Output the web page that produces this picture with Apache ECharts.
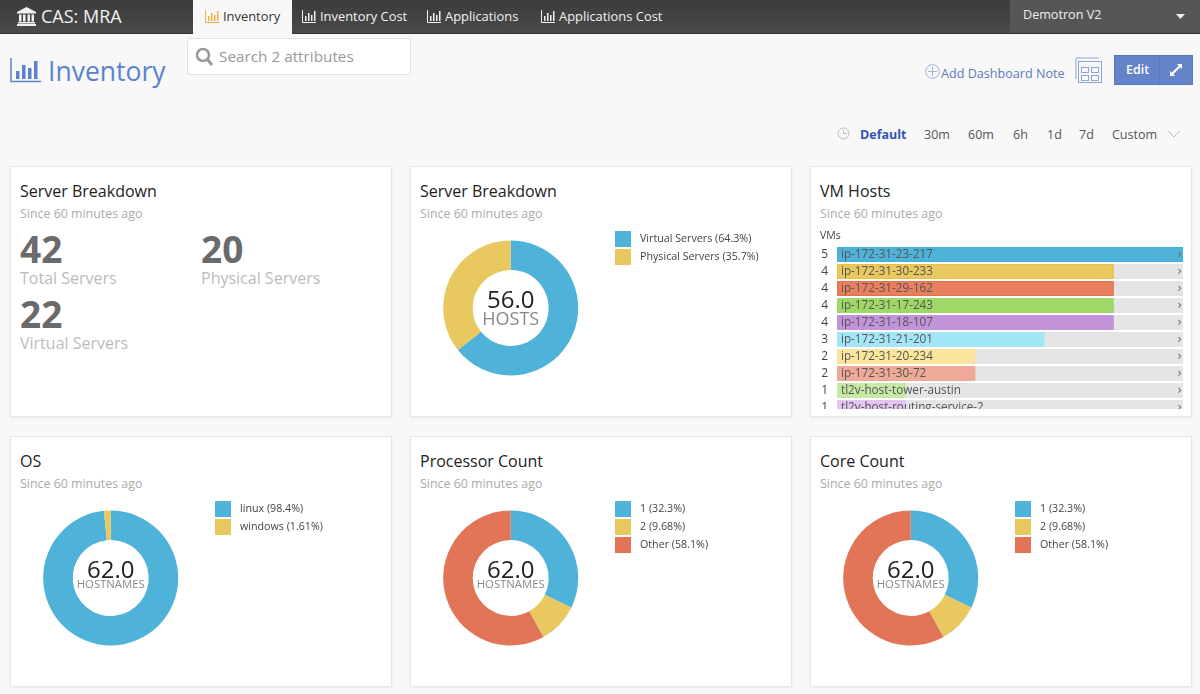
<!DOCTYPE html>
<html>
<head>
<meta charset="utf-8">
<title>CAS: MRA - Inventory</title>
<script src="https://cdn.jsdelivr.net/npm/echarts@6/dist/echarts.min.js"></script>
<style>
  html, body { margin: 0; padding: 0; }
  body { width: 1200px; height: 694px; overflow: hidden; position: relative; background: #f8f8f8;
         font-family: "Open Sans", sans-serif; color: #333; }
  .abs { position: absolute; white-space: nowrap; line-height: 1; }
  .nav { left: 0; top: 0; width: 1200px; height: 33px; background: linear-gradient(#3c3c3c, #4a4a4a); border-bottom: 1px solid #333; }
  .org { left: 1010px; top: 0; width: 190px; height: 33px; background: #565656; }
  .tab-on { left: 193px; top: 0; width: 99px; height: 34px; background: #f8f8f8; }
  .tab { top: 9.500px; font-size: 12.900px; color: #f2f2f2; }
  .card { width: 382px; height: 251px; background: #fff; border: 1px solid #e8e8e8; box-sizing: border-box;
          box-shadow: 0 1px 2px rgba(0,0,0,.06); }
  .card-title { font-size: 16px; color: #222; }
  .card-sub { font-size: 12.400px; color: #aaa; }
  .kpi { font-size: 37px; font-weight: 700; color: #6a6a6a; }
  .kpi-label { font-size: 16px; color: #bbb; }
  .range { top: 129px; font-size: 12.500px; color: #555; }
  .chart { position: absolute; width: 380px; height: 249px; }
  .clip { position: absolute; width: 380px; overflow: hidden; }
</style>
</head>
<body>
<div class="abs nav"></div>
<div class="abs org"></div>
<div class="abs tab-on"></div>

<svg class="abs" style="left:17px;top:7px" width="19" height="19" viewBox="0 0 19 19" fill="#f2f2f2">
  <path d="M9.5 0 L19 5 V6.5 H0 V5 Z"/><rect x="2" y="7.5" width="2.5" height="7"/><rect x="6" y="7.5" width="2.5" height="7"/>
  <rect x="10.5" y="7.5" width="2.5" height="7"/><rect x="14.500" y="7.5" width="2.5" height="7"/>
  <rect x="1" y="15" width="17" height="1.500"/><rect x="0" y="17" width="19" height="2"/>
</svg>
<div class="abs" style="left:41px;top:7px;font-size:18px;color:#f2f2f2">CAS: MRA</div>
<div id="tabs"></div>
<div class="abs" style="left:1023px;top:9px;font-size:12.600px;color:#eee">Demotron V2</div>
<svg class="abs" style="left:1176px;top:14px" width="9" height="5"><path d="M0 0H9L4.500 5Z" fill="#eee"/></svg>

<svg class="abs" style="left:10px;top:58px" width="31" height="25" viewBox="0 0 31 25">
  <path d="M1 0V23.500H31" fill="none" stroke="#5b82cc" stroke-width="1.500"/>
  <rect x="6" y="13" width="3.500" height="8" fill="#5b82cc"/><rect x="12" y="7" width="3.500" height="14" fill="#5b82cc"/>
  <rect x="18" y="10" width="3.500" height="11" fill="#5b82cc"/><rect x="24" y="3" width="3.500" height="18" fill="#5b82cc"/>
</svg>
<div class="abs" style="left:48px;top:58px;font-size:26.500px;color:#5b82cc">Inventory</div>
<div class="abs" style="left:187px;top:38px;width:224px;height:37px;background:#fff;border:1px solid #e2e2e2;border-radius:3px;box-sizing:border-box"></div>
<svg class="abs" style="left:195px;top:47px" width="19" height="20" viewBox="0 0 19 20">
  <circle cx="8" cy="8" r="6" fill="none" stroke="#999" stroke-width="2.500"/><path d="M12.500 12.500L17 18" stroke="#999" stroke-width="3"/>
</svg>
<div class="abs" style="left:219px;top:49px;font-size:15.300px;color:#999">Search 2 attributes</div>

<svg class="abs" style="left:925px;top:64px" width="15" height="15" viewBox="0 0 15 15">
  <circle cx="7.500" cy="7.500" r="6.800" fill="none" stroke="#9fb3dd"/><path d="M7.500 3V12M3 7.500H12" stroke="#9fb3dd"/>
</svg>
<div class="abs" style="left:941px;top:68px;font-size:12.600px;color:#5b7bbd">Add Dashboard Note</div>
<svg class="abs" style="left:1075px;top:57px" width="27" height="26" viewBox="0 0 27 26" fill="none" stroke="#8ea6d8">
  <path d="M1 22V1H24"/><rect x="3.500" y="4.500" width="23" height="21" fill="#f8f8f8"/>
  <rect x="6.500" y="10.500" width="7" height="5"/><rect x="16.500" y="10.500" width="7" height="5"/>
  <rect x="6.500" y="18.500" width="7" height="5"/><rect x="16.500" y="18.500" width="7" height="5"/>
</svg>
<div class="abs" style="left:1114px;top:55px;width:79px;height:30px;background:#6583c9;border:1px solid #5a78bd;box-sizing:border-box"></div>
<div class="abs" style="left:1159px;top:56px;width:1px;height:28px;background:#5a78bd"></div>
<div class="abs" style="left:1126px;top:64px;font-size:12.500px;font-weight:600;color:#fff">Edit</div>
<svg class="abs" style="left:1170px;top:64px" width="12" height="12" viewBox="0 0 12 12" fill="#fff">
  <path d="M7 0H12V5L10.300 3.300L3.300 10.300L5 12H0V7L1.700 8.700L8.700 1.700Z"/>
</svg>

<svg class="abs" style="left:837px;top:127px" width="13" height="13" viewBox="0 0 13 13" fill="none" stroke="#bbb">
  <circle cx="6.500" cy="6.500" r="5.500"/><path d="M6.500 3V6.500H10"/>
</svg>
<div id="ranges"></div>
<svg class="abs" style="left:1167px;top:130px" width="14" height="8"><path d="M1 1L7 7L13 1" fill="none" stroke="#bbb"/></svg>

<div id="cards"></div>

<script>
// Top bar and time range labels.
const TABS = ["Inventory", "Inventory Cost", "Applications", "Applications Cost"];
const TAB_X = [223, 320, 445, 559];
const RANGES = ["Default", "30m", "60m", "6h", "1d", "7d", "Custom"];
const RANGE_X = [860, 924, 968, 1013, 1047, 1079, 1112];

// Server Breakdown tiles.
const KPI_VALUES = [42, 20, 22];
const KPI_LABELS = ["Total Servers", "Physical Servers", "Virtual Servers"];

// Donuts: counts per slice, the legend percentages come from these.
const SERVER_NAMES = ["Virtual Servers", "Physical Servers"];
const SERVER_VALUES = [36, 20];
const OS_NAMES = ["linux", "windows"];
const OS_VALUES = [61, 1];
const PROCESSOR_NAMES = ["1", "2", "Other"];
const PROCESSOR_VALUES = [20, 6, 36];
const CORE_NAMES = ["1", "2", "Other"];
const CORE_VALUES = [20, 6, 36];

// VM Hosts list.
const VM_HOSTS = [
  "ip-172-31-23-217", "ip-172-31-30-233", "ip-172-31-29-162", "ip-172-31-17-243", "ip-172-31-18-107",
  "ip-172-31-21-201", "ip-172-31-20-234", "ip-172-31-30-72", "tl2v-host-tower-austin", "tl2v-host-routing-service-2",
];
const VM_COUNTS = [5, 4, 4, 4, 4, 3, 2, 2, 1, 1];
const VM_MAX = 5;
const VM_COLORS = ["#4fb3d9", "#e8c85f", "#e8805f", "#9fd867", "#c393d9", "#a3e6f7", "#fbe59c", "#eeaa97", "#c6e9a6", "#e3c5f1"];
const VM_BORDERS = ["#3fb0dc", "#eac13f", "#e2704e", "#9fd867", "#c393d9", "#a3e6f7", "#fbe59c", "#eeaa97", "#c6e9a6", "#e3c5f1"];

const SLICE_COLORS = ["#4fb3d9", "#e8c85f", "#e27557"];

const BAR_ICON = (color) => `<svg width="14" height="13" viewBox="0 0 14 13" style="position:absolute;left:-18px;top:0">
  <path d="M.5 0V12.500H14" fill="none" stroke="${color}"/>
  <path d="M3 6h1.500v5H3zM6 3h1.500v8H6zM9 5h1.500v6H9zM12 1h1.500v10H12z" fill="${color}"/></svg>`;

const tabsEl = document.getElementById("tabs");
TABS.forEach((name, i) => {
  const color = i === 0 ? "#333" : "#f2f2f2";
  const icon = BAR_ICON(i === 0 ? "#f0b040" : "#f2f2f2");
  tabsEl.insertAdjacentHTML("beforeend",
    `<div class="abs tab" style="left:${TAB_X[i]}px;color:${color}">${icon}${name}</div>`);
});

const rangesEl = document.getElementById("ranges");
RANGES.forEach((name, i) => {
  const extra = i === 0 ? "font-weight:700;color:#2f55b5" : "";
  rangesEl.insertAdjacentHTML("beforeend",
    `<div class="abs range" style="left:${RANGE_X[i]}px;${extra}">${name}</div>`);
});

const cardsEl = document.getElementById("cards");

function addCard(x, y, title) {
  cardsEl.insertAdjacentHTML("beforeend", `
    <div class="abs card" style="left:${x}px;top:${y}px"></div>
    <div class="abs card-title" style="left:${x + 10}px;top:${y + 17}px">${title}</div>
    <div class="abs card-sub" style="left:${x + 10}px;top:${y + 41.5}px">Since 60 minutes ago</div>`);
}

function addChart(x, y) {
  const el = document.createElement("div");
  el.className = "chart";
  el.style.left = `${x + 1}px`;
  el.style.top = `${y + 1}px`;
  cardsEl.appendChild(el);
  return echarts.init(el, null, { renderer: "canvas" });
}

// The host list scrolls in the original, so its chart sits in a shorter clipping box.
function addClippedChart(x, y, visibleHeight, fullHeight) {
  const clip = document.createElement("div");
  clip.className = "clip";
  clip.style.left = `${x + 1}px`;
  clip.style.top = `${y + 1}px`;
  clip.style.height = `${visibleHeight}px`;
  const el = document.createElement("div");
  el.className = "chart";
  el.style.left = "0";
  el.style.top = "0";
  el.style.height = `${fullHeight}px`;
  clip.appendChild(el);
  cardsEl.appendChild(clip);
  return echarts.init(el, null, { renderer: "canvas" });
}

function renderDonut(x, y, title, names, values, centerValue, centerLabel, labelSize) {
  addCard(x, y, title);
  const chart = addChart(x, y);
  const total = values.reduce((a, b) => a + b, 0);
  const pct = Object.fromEntries(names.map((n, i) => [n, (values[i] / total * 100).toPrecision(3)]));
  chart.setOption({
    animation: false,
    color: SLICE_COLORS,
    legend: {
      left: 199,
      top: 59,
      orient: "vertical",
      icon: "rect",
      itemWidth: 16,
      itemHeight: 16,
      itemGap: 2,
      selectedMode: false,
      textStyle: { fontFamily: "Open Sans", fontSize: 10.7, color: "#444", padding: [0, 0, 0, 4] },
      formatter: (n) => `${n} (${pct[n]}%)`,
    },
    graphic: [
      {
        type: "text", x: 99.7, y: 134,
        style: { text: centerValue, fontFamily: "Open Sans", fontSize: 24, fill: "#222", align: "center", verticalAlign: "middle" },
      },
      {
        type: "text", x: 99.7, y: labelSize > 12 ? 153 : 148,
        style: { text: centerLabel, fontFamily: "Open Sans", fontSize: labelSize, fill: "#888", align: "center", verticalAlign: "middle" },
      },
    ],
    series: [
      {
        type: "pie",
        center: [99.7, 141],
        radius: [38, 67.5],
        startAngle: 90,
        clockwise: true,
        silent: true,
        label: { show: false },
        data: names.map((name, i) => ({ name, value: values[i] })),
      },
    ],
  });
}

function renderVmHosts(x, y) {
  addCard(x, y, "VM Hosts");
  const chart = addClippedChart(x, y, 242, 262);
  const rowHeight = 17;
  chart.setOption({
    animation: false,
    graphic: [
      { type: "text", x: 9, y: 63.5, style: { text: "VMs", fontFamily: "Open Sans", fontSize: 10.5, fill: "#444" } },
    ],
    grid: { left: 26, top: 79, width: 346, height: rowHeight * VM_HOSTS.length },
    xAxis: { type: "value", min: 0, max: VM_MAX, show: false },
    yAxis: {
      type: "category",
      inverse: true,
      data: VM_HOSTS,
      axisLine: { show: false },
      axisTick: { show: false },
      axisLabel: {
        margin: 9,
        align: "right",
        fontFamily: "Open Sans",
        fontSize: 12,
        color: "#444",
        formatter: (_, i) => String(VM_COUNTS[i]),
      },
    },
    series: [
      {
        // Grey track behind each bar, it also carries the row chevron.
        type: "bar",
        silent: true,
        barWidth: 15,
        barGap: "-100%",
        itemStyle: { color: "#e5e5e5" },
        data: VM_HOSTS.map(() => VM_MAX),
        label: {
          show: true,
          position: "insideRight",
          distance: 1,
          fontFamily: "DejaVu Sans",
          fontSize: 12,
          color: "#666",
          formatter: () => "›",
        },
      },
      {
        type: "bar",
        silent: true,
        barWidth: 15,
        barGap: "-100%",
        data: VM_COUNTS.map((value, i) => ({
          value,
          itemStyle: { color: VM_COLORS[i], borderColor: VM_BORDERS[i], borderWidth: 1 },
        })),
        label: {
          show: true,
          position: "insideLeft",
          distance: 4,
          fontFamily: "Open Sans",
          fontSize: 11.7,
          color: "#555",
          formatter: (p) => VM_HOSTS[p.dataIndex],
        },
      },
    ],
  });
}

// Stat tile.
addCard(10, 166, "Server Breakdown");
const KPI_POS = [[20, 230, 270], [201, 230, 270], [20, 295, 335]];
KPI_VALUES.forEach((v, i) => {
  const [px, numY, labelY] = KPI_POS[i];
  cardsEl.insertAdjacentHTML("beforeend", `
    <div class="abs kpi" style="left:${px}px;top:${numY}px">${v}</div>
    <div class="abs kpi-label" style="left:${px}px;top:${labelY}px">${KPI_LABELS[i]}</div>`);
});

renderDonut(410, 166, "Server Breakdown", SERVER_NAMES, SERVER_VALUES, "56.0", "HOSTS", 18);
renderVmHosts(810, 166);
renderDonut(10, 436, "OS", OS_NAMES, OS_VALUES, "62.0", "HOSTNAMES", 11.3);
renderDonut(410, 436, "Processor Count", PROCESSOR_NAMES, PROCESSOR_VALUES, "62.0", "HOSTNAMES", 11.3);
renderDonut(810, 436, "Core Count", CORE_NAMES, CORE_VALUES, "62.0", "HOSTNAMES", 11.3);
</script>
</body>
</html>
